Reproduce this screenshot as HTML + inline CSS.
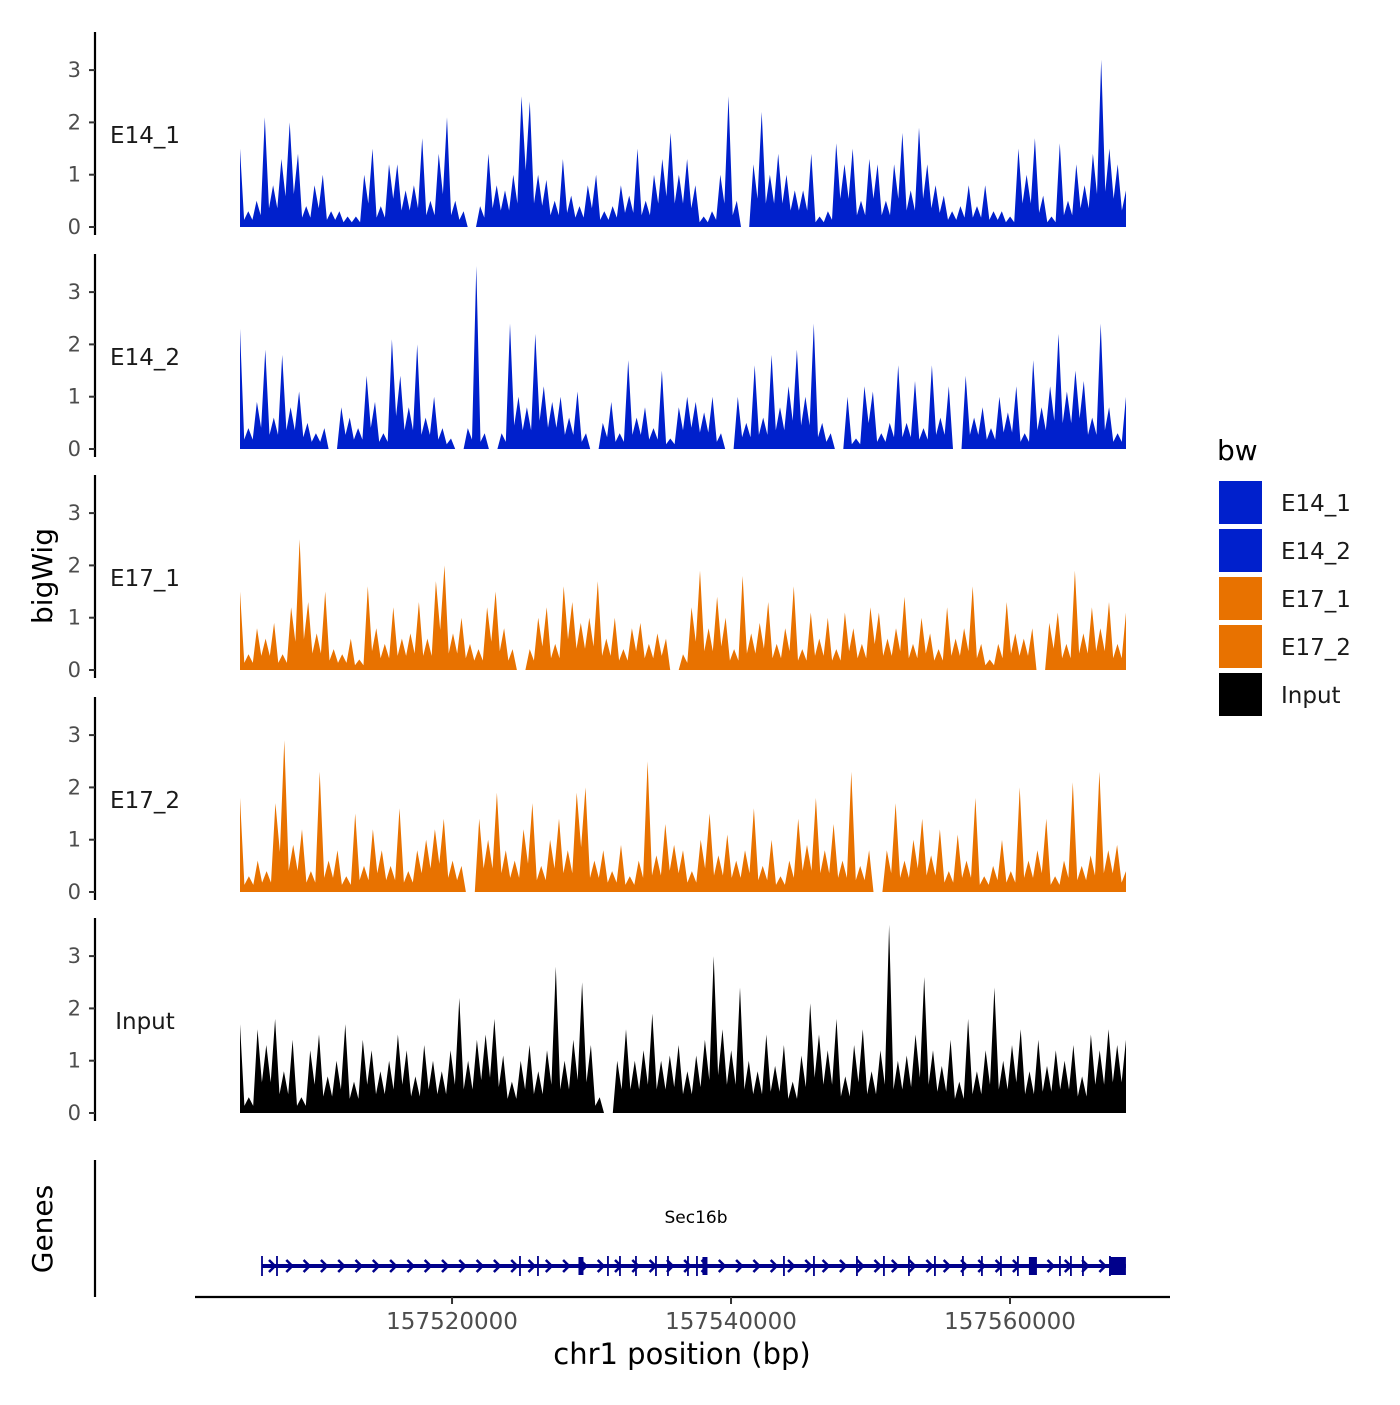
<!DOCTYPE html>
<html><head><meta charset="utf-8">
<style>
body{margin:0;background:#fff;}
svg text{font-family:"DejaVu Sans","Liberation Sans",sans-serif;}
</style></head>
<body>
<svg id="chart" width="1400" height="1400" xmlns="http://www.w3.org/2000/svg"></svg>
<script>
const e14_1=[1.5,0.3,0.5,2.1,0.8,1.3,2.0,1.4,0.4,0.8,1.0,0.3,0.3,0.2,0.2,1.0,1.5,0.4,1.2,1.2,0.7,0.8,1.7,0.5,1.4,2.1,0.5,0.3,0,0.4,1.4,0.8,0.7,1.0,2.5,2.4,1.0,0.9,0.5,1.3,0.6,0.4,0.8,1.0,0.3,0.4,0.8,0.6,1.5,0.5,1.0,1.3,1.8,1.0,1.3,0.8,0.2,0.3,1.0,2.5,0.5,0,1.2,2.2,1.0,1.4,1.0,0.7,0.7,1.4,0.2,0.3,1.6,1.2,1.5,0.5,1.3,1.2,0.5,1.2,1.8,0.7,1.9,1.2,0.8,0.6,0.3,0.4,0.8,0.4,0.8,0.3,0.3,0.2,1.5,1.0,1.7,0.6,0.2,1.6,0.5,1.2,0.8,1.4,3.2,1.5,1.2,0.7];
const e14_2=[2.3,0.4,0.9,1.9,0.6,1.8,0.8,1.1,0.5,0.3,0.4,0,0.8,0.6,0.4,1.4,0.9,0.3,2.1,1.4,0.8,2.0,0.6,1.0,0.4,0.2,0,0.4,3.5,0.3,0,0.3,2.4,1.0,0.8,2.2,1.2,0.9,1.0,0.6,1.1,0.3,0,0.5,0.9,0.3,1.7,0.6,0.8,0.4,1.5,0.2,0.8,1.0,0.9,0.7,1.0,0.3,0,1.0,0.5,1.6,0.6,1.8,0.8,1.2,1.9,1.0,2.4,0.5,0.3,0,1.0,0.2,1.2,1.1,0.3,0.5,1.6,0.5,1.3,0.4,1.6,0.6,1.2,0,1.4,0.6,0.8,0.4,1.0,0.7,1.2,0.3,1.7,0.8,1.2,2.2,1.1,1.5,1.3,0.6,2.4,0.8,0.3,1.0];
const e17_1=[1.5,0.3,0.8,0.6,0.9,0.3,1.2,2.5,1.3,0.7,1.5,0.4,0.3,0.6,0.2,1.6,0.8,0.5,1.2,0.6,0.7,1.3,0.6,1.7,2.0,0.7,1.0,0.5,0.4,1.2,1.5,0.8,0.4,0,0.4,1.0,1.2,0.5,1.6,1.3,0.9,1.0,1.7,0.6,1.0,0.4,0.8,0.9,0.5,0.7,0.6,0,0.3,1.2,1.9,0.8,1.4,1.0,0.4,1.8,0.7,0.9,1.3,0.5,0.8,1.6,0.4,1.1,0.6,1.0,0.4,1.1,0.8,0.5,1.2,1.1,0.6,0.8,1.4,0.5,1.0,0.7,0.4,1.2,0.6,0.8,1.6,0.5,0.2,0.5,1.3,0.7,0.6,0.8,0,0.9,1.1,0.5,1.9,0.7,1.2,0.8,1.3,0.5,1.1];
const e17_2=[1.8,0.3,0.6,0.4,1.7,2.9,0.9,1.2,0.4,2.3,0.6,0.8,0.3,1.5,0.5,1.2,0.8,0.5,1.6,0.4,0.8,1.0,1.2,1.4,0.6,0.5,0,1.4,1.0,1.9,0.8,0.6,1.2,1.7,0.5,1.0,1.4,0.8,1.9,2.0,0.6,0.8,0.4,0.9,0.3,0.6,2.5,0.7,1.3,0.9,0.8,0.4,1.0,1.5,0.7,1.1,0.6,0.8,1.6,0.5,1.0,0.3,0.6,1.4,0.9,1.8,0.8,1.3,0.6,2.3,0.5,0.8,0,0.8,1.7,0.6,1.0,1.4,0.7,1.2,0.4,1.1,0.6,1.8,0.3,0.5,1.0,0.4,2.0,0.6,0.8,1.4,0.3,0.6,2.1,0.5,0.7,2.3,0.8,0.9,0.4];
const input=[1.7,0.3,1.6,1.3,1.8,0.8,1.4,0.3,1.2,1.5,0.7,1.0,1.7,0.6,1.4,1.2,0.8,1.0,1.5,1.2,0.7,1.3,1.0,0.8,1.2,2.2,1.0,1.4,1.5,1.8,1.1,0.6,1.0,1.3,0.8,1.2,2.8,1.0,1.4,2.5,1.3,0.3,0,1.0,1.6,1.0,1.2,1.9,1.0,1.1,1.3,0.8,1.1,1.4,3.0,1.6,1.2,2.4,1.0,0.8,1.5,0.9,1.3,0.6,1.1,2.1,1.5,1.2,1.8,0.7,1.3,1.6,0.8,1.2,3.6,1.0,1.1,1.5,2.6,1.2,0.9,1.4,0.6,1.8,0.8,1.2,2.4,1.0,1.3,1.6,0.8,1.4,0.9,1.2,1.0,1.3,0.7,1.5,1.2,1.6,1.3,1.4];
const trackNames=["E14_1","E14_2","E17_1","E17_2","Input"];
const trackColors=["#0020CC","#0020CC","#E87200","#E87200","#000000"];
const yTicks=[0,1,2,3];
const xTicks=[157520000,157540000,157560000];
const xTickLabels=["157520000","157540000","157560000"];
const exonStarts=[157506377,157507452,157524871,157526161,157529243,157531178,157532039,157533186,157534619,157535480,157536913,157537558,157538132,157543794,157545945,157549027,157550962,157552754,157554618,157556625,157557987,157559349,157560567,157561643,157563578,157564366,157565227,157567162];
const exonThick=[157529243,157538132,157561643];
const geneStart=157506377, geneEnd=157568309;

const NS="http://www.w3.org/2000/svg";
const svg=document.getElementById('chart');
function mk(tag,attrs,parent){const e=document.createElementNS(NS,tag);for(const k in attrs)e.setAttribute(k,attrs[k]);(parent||svg).appendChild(e);return e;}
const dMin=157504800,dMax=157568315,px0=240,px1=1126;
const xs=v=>px0+(v-dMin)/(dMax-dMin)*(px1-px0);
const zeros=[227,449,670,892,1113];
const unit=52.3;
const tracks=[e14_1,e14_2,e17_1,e17_2,input];
tracks.forEach((vals,t)=>{
  const z=zeros[t];
  const g=mk('g',{});
  
  
  const n=vals.length;
  const step=(px1-px0)/(n-1);
  let d='M'+px0+','+z;
  vals.forEach((v,i)=>{
    const x=px0+i*step;
    if(i>0){const m=Math.min(v,vals[i-1])*0.45;d+=' L'+(x-step/2).toFixed(1)+','+(z-m*unit).toFixed(1);}
    d+=' L'+x.toFixed(1)+','+(z-v*unit).toFixed(1);
  });
  d+=' L'+px1+','+z+' Z';
  const p=mk('path',{d:d,fill:trackColors[t]},g);
  
  
  const ax=mk('line',{x1:95,x2:95,y1:z-195,y2:z+8,stroke:'#000','stroke-width':2.2},g);
  
  
  yTicks.forEach(tk=>{
    const y=z-tk*unit;
    mk('line',{x1:89,x2:95,y1:y,y2:y,stroke:'#333','stroke-width':2},g);
    const tx=mk('text',{x:81,y:y+7,'text-anchor':'end','font-size':21,fill:'#4d4d4d'},g);
    tx.textContent=tk;
    
    
  });
  const lb=mk('text',{x:145,y:z-84,'text-anchor':'middle','font-size':23,fill:'#1a1a1a'},g);
  lb.textContent=trackNames[t];
  
  
});
const yt=mk('text',{x:52,y:576,'text-anchor':'middle','font-size':28,transform:'rotate(-90 52 576)'});
yt.textContent='bigWig';


const gt=mk('text',{x:52,y:1229,'text-anchor':'middle','font-size':28,transform:'rotate(-90 52 1229)'});
gt.textContent='Genes';


const gax=mk('line',{x1:95,x2:95,y1:1160,y2:1297,stroke:'#000','stroke-width':2.2});


const gl=mk('text',{x:696,y:1223,'text-anchor':'middle','font-size':17,fill:'#000'});
gl.textContent='Sec16b';


const gene=mk('g',{fill:'#00008B',stroke:'#00008B'});


mk('line',{x1:xs(geneStart),x2:xs(geneEnd),y1:1266,y2:1266,'stroke-width':4},gene);
for(let x=xs(geneStart)+10;x<xs(geneEnd)-12;x+=17.3){
  mk('path',{d:`M${x-3},${1260} L${x+3},${1266} L${x-3},${1272}`,fill:'none','stroke-width':2.5},gene);
}
exonStarts.forEach(s=>{
  const x=xs(s);const thick=exonThick.includes(s);
  const w=thick?(s===157561643?8:5):1.8;
  mk('rect',{x:x-w/2,y:thick?1257:1256,width:w,height:thick?18:20,stroke:'none'},gene);
});
mk('rect',{x:xs(157567162),y:1257,width:xs(geneEnd)-xs(157567162),height:18,stroke:'none'},gene);
const xa=mk('line',{x1:195,x2:1170,y1:1297,y2:1297,stroke:'#000','stroke-width':2.2});


xTicks.forEach((v,i)=>{
  const x=xs(v);
  mk('line',{x1:x,x2:x,y1:1297,y2:1304,stroke:'#333','stroke-width':2});
  const t=mk('text',{x:x,y:1329,'text-anchor':'middle','font-size':23,fill:'#4d4d4d'});
  t.textContent=xTickLabels[i];
  
  
});
const xt=mk('text',{x:682,y:1364,'text-anchor':'middle','font-size':29});
xt.textContent='chr1 position (bp)';


const lg=mk('g',{});


const lt=mk('text',{x:1217,y:460,'font-size':28},lg);
lt.textContent='bw';
const legNames=["E14_1","E14_2","E17_1","E17_2","Input"];
legNames.forEach((nm,i)=>{
  const y=481+i*48;
  const r=mk('rect',{x:1219,y:y,width:43,height:43,fill:trackColors[i]},lg);
  
  
  const t=mk('text',{x:1281,y:y+30,'font-size':23,fill:'#1a1a1a'},lg);
  t.textContent=nm;
  
  
});
</script>
</body></html>
